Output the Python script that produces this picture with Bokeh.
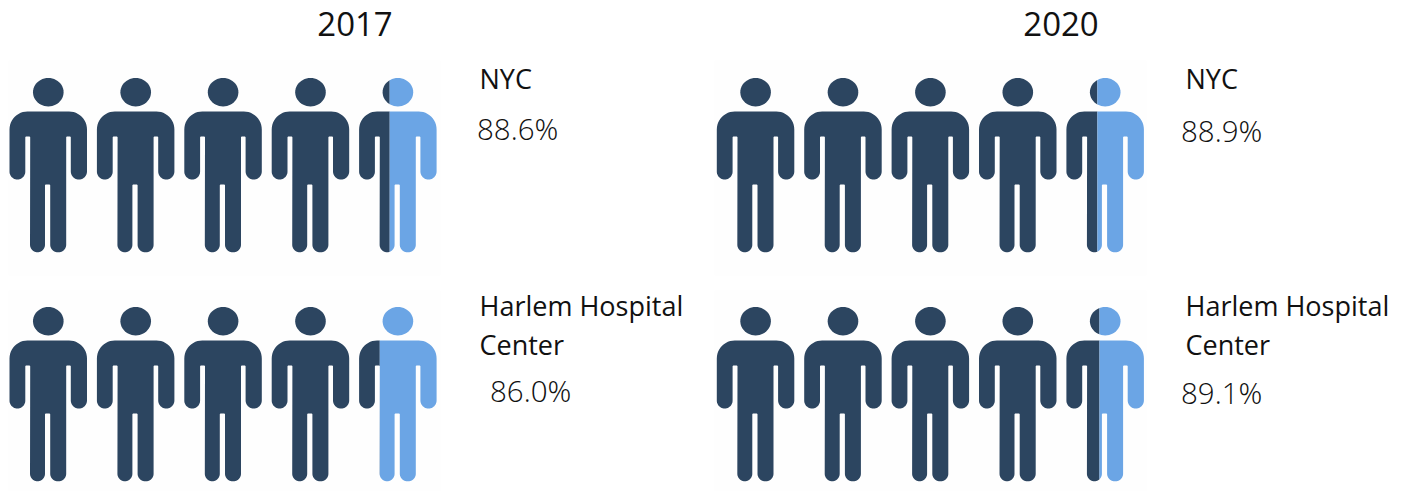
import math
from bokeh.plotting import figure
from bokeh.models import Range1d
from bokeh.core.properties import value
from bokeh.embed import file_html
from bokeh.resources import INLINE

years = ["2017", "2020"]
places = [["NYC"], ["Harlem Hospital", "Center"]]
pct_2017 = [88.6, 86.0]
pct_2020 = [88.9, 89.1]
whole_figures = 4
last_figure_dark_2017 = [0.395, 0.267]
last_figure_dark_2020 = [0.40, 0.427]

DARK = "#2c4560"
LIGHT = "#6ba5e5"
FONT_HEAD = value("Open Sans")
FONT_PCT = value("Open Sans Light")

W, H = 1402, 491
p = figure(width=W, height=H, output_backend="svg", toolbar_location=None,
           x_range=Range1d(0, W), y_range=Range1d(H, 0), min_border=0)
p.axis.visible = False
p.grid.visible = False
p.outline_line_color = None
p.background_fill_color = "white"
p.border_fill_color = "white"


def rounded(verts):
    out = []
    n = len(verts)
    for i, (x, y, r) in enumerate(verts):
        ax, ay, _ = verts[i - 1]
        bx, by, _ = verts[(i + 1) % n]
        d1 = math.hypot(ax - x, ay - y)
        d2 = math.hypot(bx - x, by - y)
        r1 = min(r, d1 / 2, d2 / 2)
        sx, sy = x + (ax - x) / d1 * r1, y + (ay - y) / d1 * r1
        ex, ey = x + (bx - x) / d2 * r1, y + (by - y) / d2 * r1
        for k in range(13):
            t = k / 12 * math.pi / 2
            u, v = 1 - math.cos(t), 1 - math.sin(t)
            out.append((x + (sx - x) * v + (ex - x) * u, y + (sy - y) * v + (ey - y) * u))
    return out


BODY_W = 77.5
BODY = rounded([
    (0, 0, 18), (BODY_W, 0, 18), (BODY_W, 68, 8), (61.3, 68, 8), (61.3, 25, 1), (56.7, 25, 1),
    (56.7, 140.7, 7.5), (40.7, 140.7, 7.5), (40.7, 73, 1), (35.5, 73, 1), (35.5, 140.7, 7.5),
    (20.5, 140.7, 7.5), (20.7, 25, 1), (15.8, 25, 1), (15.8, 68, 8), (0, 68, 8),
])
HEAD = [(38.8 + 15.3 * math.cos(i / 48 * 2 * math.pi), -19.3 + 14.2 * math.sin(i / 48 * 2 * math.pi))
        for i in range(48)]


def clip(poly, limit, keep_left):
    res = []
    inside = (lambda q: q[0] <= limit) if keep_left else (lambda q: q[0] >= limit)
    for i, a in enumerate(poly):
        b = poly[i - 1]
        if inside(a) != inside(b):
            t = (limit - b[0]) / (a[0] - b[0])
            res.append((limit, b[1] + t * (a[1] - b[1])))
        if inside(a):
            res.append(a)
    return res


xs_d, ys_d, xs_l, ys_l = [], [], [], []


def add(poly, ox, oy, bucket):
    if poly:
        bucket[0].append([q[0] + ox for q in poly])
        bucket[1].append([q[1] + oy for q in poly])


COL_X = [9.0, 716.3]
ROW_Y = [111.0, 340.0]
PITCH = 87.4
PANEL_X = [8, 714]
PANEL_Y = [60, 290]
PANEL_H = [215, 201]
LABEL_X = [479, 1185]
NAME_Y = [[78], [305, 344]]
PCT_X = [[476.5, 1180.5], [489.5, 1180.5]]
PCT_Y = [[128, 130], [390, 392]]
TITLE_X = [354.5, 1060.5]

shares = [last_figure_dark_2017, last_figure_dark_2020]
pcts = [pct_2017, pct_2020]

p.quad(left=[x for x in PANEL_X for _ in PANEL_Y],
       right=[x + 432 for x in PANEL_X for _ in PANEL_Y],
       top=[y for _ in PANEL_X for y in PANEL_Y],
       bottom=[y + h for _ in PANEL_X for y, h in zip(PANEL_Y, PANEL_H)],
       fill_color="#fefefe", line_color=None)

for c, ox in enumerate(COL_X):
    for r, oy in enumerate(ROW_Y):
        for i in range(whole_figures):
            add(BODY, ox + i * PITCH, oy, (xs_d, ys_d))
            add(HEAD, ox + i * PITCH, oy, (xs_d, ys_d))
        lx = ox + whole_figures * PITCH
        limit = BODY_W * shares[c][r]
        for shape in (BODY, HEAD):
            add(clip(shape, limit, True), lx, oy, (xs_d, ys_d))
            add(clip(shape, limit, False), lx, oy, (xs_l, ys_l))

p.patches(xs_d, ys_d, fill_color=DARK, line_color=None)
p.patches(xs_l, ys_l, fill_color=LIGHT, line_color=None)

p.text(x=TITLE_X, y=[23, 23], text=years, text_font=FONT_HEAD, text_font_size="33px",
       text_align="center", text_baseline="middle", text_color="#111111")

for c in range(2):
    for r in range(2):
        for line, yy in zip(places[r], NAME_Y[r]):
            p.text(x=[LABEL_X[c]], y=[yy], text=[line], text_font=FONT_HEAD, text_font_size="27px",
                   text_align="left", text_baseline="middle", text_color="#111111")
        p.text(x=[PCT_X[r][c]], y=[PCT_Y[r][c]], text=[f"{pcts[c][r]:.1f}%"], text_font=FONT_PCT,
               text_font_size="29.5px", text_align="left", text_baseline="middle", text_color="#111111")

open("out.html", "w").write(file_html(p, INLINE))
